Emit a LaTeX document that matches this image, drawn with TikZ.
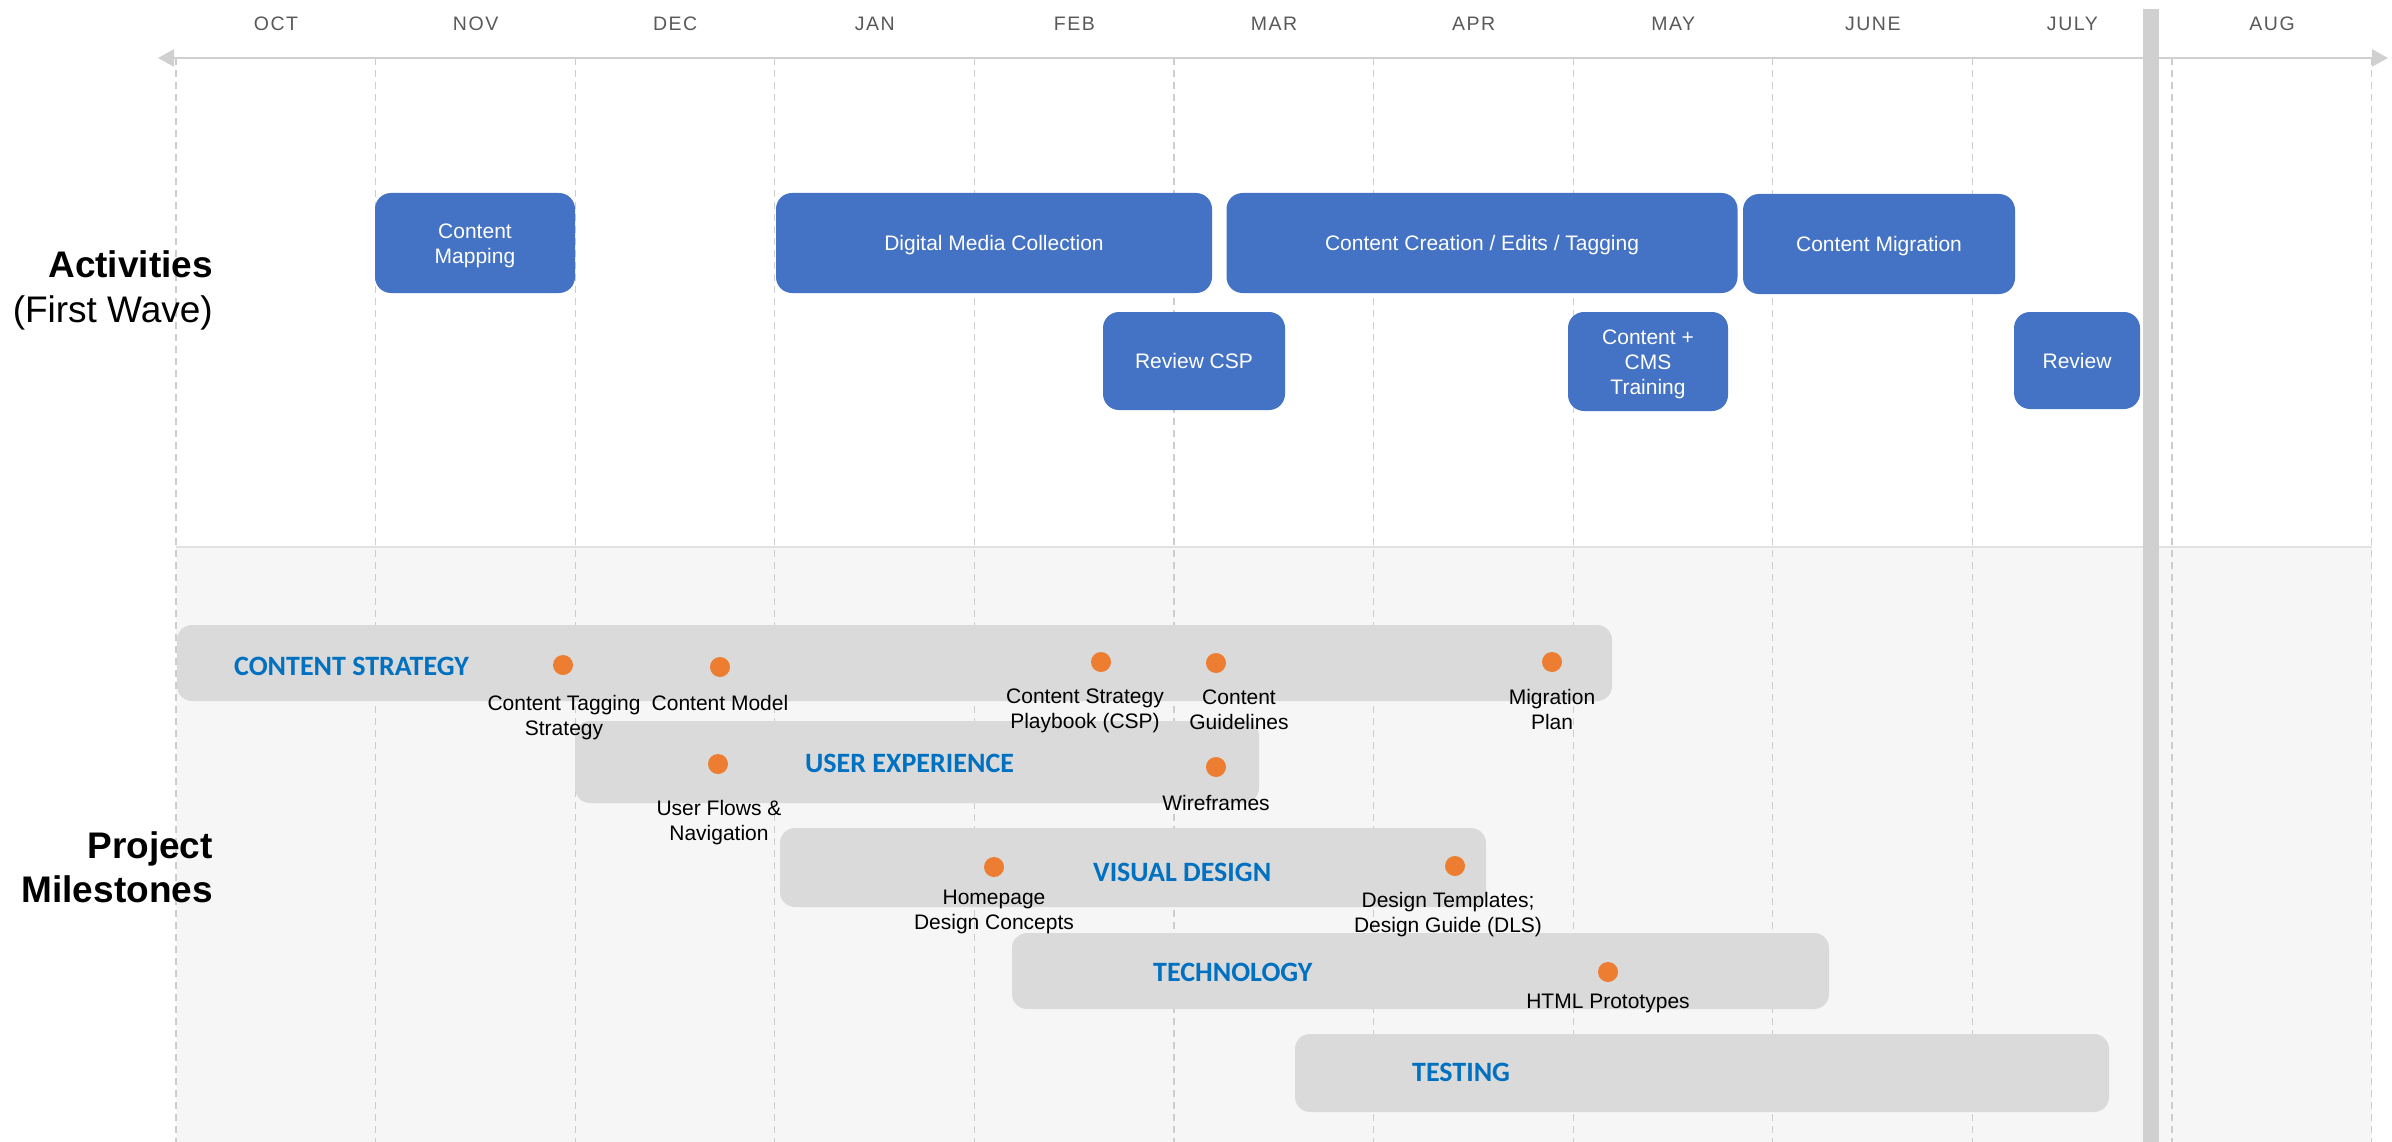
\documentclass[tikz,border=0pt]{standalone}
\usepackage{fontspec}
\setmainfont{Liberation Sans}
\newfontfamily\catfont{Carlito}
\newfontfamily\monthfont[LetterSpace=8]{Liberation Sans}
\usetikzlibrary{arrows.meta}
\definecolor{boxblue}{HTML}{4472C4}
\definecolor{barfill}{HTML}{DADADA}
\definecolor{catblue}{HTML}{0070C0}
\definecolor{dotorange}{HTML}{ED7D31}
\definecolor{gridgray}{HTML}{CDCDCD}
\definecolor{axisgray}{HTML}{D0D0D0}
\definecolor{bggray}{HTML}{F6F6F6}
\definecolor{bgline}{HTML}{E2E2E2}
\definecolor{monthgray}{HTML}{595959}
\tikzset{
  actbox/.style={fill=boxblue, rounded corners=16pt, text=white, align=center, inner sep=0pt,
    text height=15pt, text depth=0pt, font=\fontsize{21}{25}\selectfont},
  msbar/.style={fill=barfill, rounded corners=15pt, inner sep=0pt},
  catlabel/.style={anchor=west, inner sep=0pt, text=catblue, font=\catfont\bfseries\fontsize{28}{32}\selectfont},
  msdot/.style={circle, fill=dotorange, inner sep=0pt, minimum size=20pt},
  mslabel/.style={anchor=north, inner sep=0pt, align=center, text=black, font=\fontsize{21}{25}\selectfont},
  monthlabel/.style={inner sep=0pt, text=monthgray, font=\monthfont\fontsize{19.5}{22}\selectfont},
  gridline/.style={draw=gridgray, line width=1.3pt, dash pattern=on 7pt off 5pt},
  sidelabel/.style={anchor=base east, inner sep=0pt, text=black, font=\fontsize{37}{44}\selectfont},
}
\begin{document}
\begin{tikzpicture}[x=1pt,y=-1pt]
\useasboundingbox (0,0) rectangle (2392,1142);
\fill[white] (0,0) rectangle (2392,1142);
% lower background
\fill[bggray] (176,547) rectangle (2372,1142);
\draw[bgline, line width=1.5pt] (176,547) -- (2372,547);
% grid lines
\foreach \k in {0,...,11} {
  \draw[gridline] (176+199.6*\k,58) -- (176+199.6*\k,1142);
}
% months
\foreach \m [count=\i from 0] in {OCT,NOV,DEC,JAN,FEB,MAR,APR,MAY,JUNE,JULY,AUG} {
  \node[monthlabel] (m\i) at (276+199.6*\i,24) {\m};
}
% axis
\coordinate (axL) at (158,58);
\coordinate (axR) at (2388,58);
\draw[axisgray, line width=2.5pt, {Triangle[length=16pt,width=17pt]}-{Triangle[length=16pt,width=17pt]}] (axL) -- (axR);
% today bar
\fill[axisgray] (2143,9) rectangle (2159,1142);
% side labels
\node[sidelabel, font=\bfseries\fontsize{37}{44}\selectfont] (act) at (213,277.5) {Activities};
\node[sidelabel] (fw) at (213,322) {(First Wave)};
\node[sidelabel, font=\bfseries\fontsize{37}{44}\selectfont] (proj) at (213,858.5) {Project};
\node[sidelabel, font=\bfseries\fontsize{37}{44}\selectfont] (miles) at (213,902.5) {Milestones};
% activity boxes
\node[actbox, text height=40pt, minimum width=200pt, minimum height=100pt] (map) at (475,243) {Content\\Mapping};
\node[actbox, minimum width=436pt, minimum height=100pt] (dmc) at (994,243) {Digital Media Collection};
\node[actbox, minimum width=511pt, minimum height=100pt] (cce) at (1482,243) {Content Creation / Edits / Tagging};
\node[actbox, minimum width=272pt, minimum height=100pt] (cmig) at (1879,244) {Content Migration};
\node[actbox, minimum width=182pt, minimum height=98pt] (rcsp) at (1194,361) {Review CSP};
\node[actbox, text height=65pt, minimum width=160pt, minimum height=99pt] (cms) at (1648,361.5) {Content +\\CMS\\Training};
\node[actbox, minimum width=126pt, minimum height=97pt] (rev) at (2077,360.5) {Review};
% milestone bars
\node[msbar, minimum width=1435pt, minimum height=76pt] (bcs) at (894.5,663) {};
\node[msbar, minimum width=684pt, minimum height=82pt] (bux) at (917,762) {};
\node[msbar, minimum width=706pt, minimum height=79pt] (bvd) at (1133,867.5) {};
\node[msbar, minimum width=817pt, minimum height=76pt] (btech) at (1420.5,971) {};
\node[msbar, minimum width=814pt, minimum height=78pt] (btest) at (1702,1073) {};
% category labels
\node[catlabel] (lcs) at (234,666) {CONTENT STRATEGY};
\node[catlabel] (lux) at (805,763) {USER EXPERIENCE};
\node[catlabel] (lvd) at (1093,872) {VISUAL DESIGN};
\node[catlabel] (ltech) at (1153,972) {TECHNOLOGY};
\node[catlabel] (ltest) at (1412,1072) {TESTING};
% dots
\node[msdot] (d1) at (563,665) {};
\node[msdot] (d2) at (720,667) {};
\node[msdot] (d3) at (1101,662) {};
\node[msdot] (d4) at (1216,663) {};
\node[msdot] (d5) at (1552,662) {};
\node[msdot] (d6) at (718,764) {};
\node[msdot] (d7) at (1216,767) {};
\node[msdot] (d8) at (994,867) {};
\node[msdot] (d9) at (1455,866) {};
\node[msdot] (d10) at (1608,972) {};
% milestone labels
\node[mslabel] (t1) at (564,695) {Content Tagging\\Strategy};
\node[mslabel] (t2) at (720,695) {Content Model};
\node[mslabel] (t3) at (1085,689) {Content Strategy\\Playbook (CSP)};
\node[mslabel] (t4) at (1239,690) {Content\\Guidelines};
\node[mslabel] (t5) at (1552,689) {Migration\\Plan};
\node[mslabel] (t6) at (719,800) {User Flows \&\\Navigation};
\node[mslabel] (t7) at (1216,795) {Wireframes};
\node[mslabel] (t8) at (994,890) {Homepage\\Design Concepts};
\node[mslabel] (t9) at (1448,892) {Design Templates;\\Design Guide (DLS)};
\node[mslabel] (t10) at (1608,994) {HTML Prototypes};
\end{tikzpicture}
\end{document}
